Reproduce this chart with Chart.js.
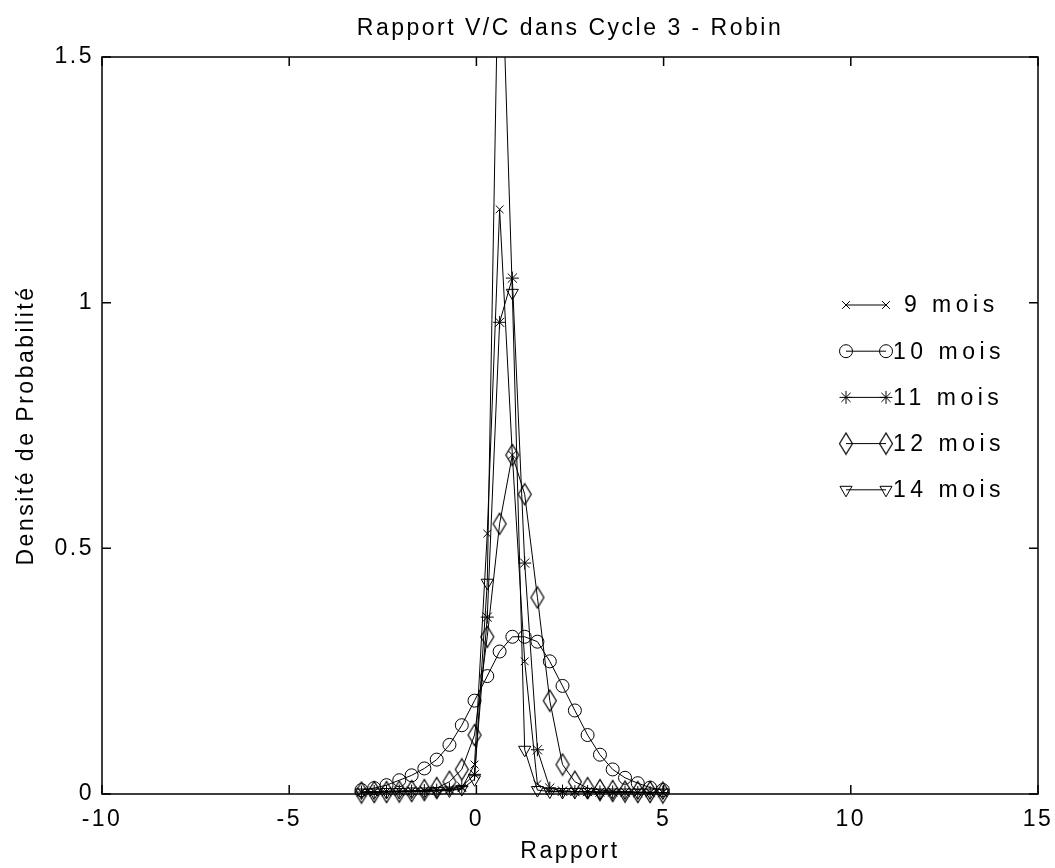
<!DOCTYPE html>
<html>
<head>
<meta charset="utf-8">
<script src="https://cdn.jsdelivr.net/npm/chart.js@4.4.0/dist/chart.umd.min.js"></script>
<style>
  body { margin: 0; background: #fff; }
</style>
</head>
<body>
<canvas id="chart" width="1055" height="868"></canvas>
<script>
// values (common x grid for all curves)
const rapport = [-3.07, -2.73, -2.40, -2.06, -1.73, -1.39, -1.06, -0.72, -0.39, -0.05, 0.29, 0.62, 0.96,
                 1.29, 1.63, 1.96, 2.30, 2.63, 2.97, 3.30, 3.64, 3.97, 4.31, 4.64, 4.98];
const mois9  = [0.004, 0.004, 0.005, 0.005, 0.006, 0.006, 0.007, 0.008, 0.012, 0.06, 0.53, 1.19, 0.69,
                0.27, 0.02, 0.006, 0.005, 0.005, 0.004, 0.004, 0.004, 0.004, 0.003, 0.003, 0.003];
const mois10 = [0.008, 0.012, 0.018, 0.028, 0.038, 0.052, 0.07, 0.10, 0.14, 0.19, 0.24, 0.29, 0.32,
                0.32, 0.31, 0.27, 0.22, 0.17, 0.12, 0.08, 0.05, 0.033, 0.022, 0.013, 0.008];
const mois11 = [0.004, 0.005, 0.005, 0.006, 0.006, 0.007, 0.008, 0.01, 0.015, 0.04, 0.36, 0.96, 1.05,
                0.47, 0.09, 0.012, 0.006, 0.005, 0.005, 0.004, 0.004, 0.004, 0.003, 0.003, 0.003];
const mois12 = [0.003, 0.004, 0.004, 0.005, 0.006, 0.008, 0.012, 0.025, 0.05, 0.12, 0.32, 0.55, 0.69,
                0.61, 0.40, 0.19, 0.06, 0.025, 0.012, 0.008, 0.006, 0.005, 0.004, 0.004, 0.003];
const mois14 = [0.003, 0.003, 0.004, 0.004, 0.005, 0.005, 0.006, 0.007, 0.01, 0.03, 0.43, 1.85, 1.02,
                0.09, 0.008, 0.005, 0.004, 0.004, 0.004, 0.003, 0.003, 0.003, 0.003, 0.003, 0.003];
const seriesLabels = [' 9 mois', '10 mois', '11 mois', '12 mois', '14 mois'];
const xTicks = [-10, -5, 0, 5, 10, 15];
const yTicks = [0, 0.5, 1, 1.5];

const FONT = 'Liberation Sans';
const SPACING = '2.5px';

// tall diamond like the matlab one
function diamond() {
    const c = document.createElement('canvas');
    c.width = 16; c.height = 24;
    const g = c.getContext('2d');
    g.strokeStyle = '#000';
    g.lineWidth = 1.2;
    g.beginPath();
    g.moveTo(1.5, 12); g.lineTo(8, 1.5); g.lineTo(14.5, 12); g.lineTo(8, 22.5);
    g.closePath();
    g.stroke();
    return c;
}

const styles = [
    { pointStyle: 'crossRot', pointRadius: 5.5 },
    { pointStyle: 'circle', pointRadius: 6.5 },
    { pointStyle: 'star', pointRadius: 6.5 },
    { pointStyle: diamond(), pointRadius: 7 },
    { pointStyle: 'triangle', pointRadius: 7, pointRotation: 180 }
];

const datasets = [mois9, mois10, mois11, mois12, mois14].map((vals, i) => ({
    label: seriesLabels[i],
    data: rapport.map((x, k) => ({ x, y: vals[k] })),
    showLine: true,
    borderColor: '#000',
    borderWidth: 1,
    pointBorderColor: '#000',
    pointBorderWidth: 1,
    pointBackgroundColor: 'rgba(0,0,0,0)',
    clip: { left: 12, right: 12, top: 0, bottom: 12 },
    ...styles[i]
}));

const spacing = {
    id: 'spacing',
    beforeUpdate(chart) { chart.ctx.letterSpacing = SPACING; },
    beforeDraw(chart) { chart.ctx.letterSpacing = SPACING; }
};

// box round the axes, ticks pointing inwards, and the legend inside the plot
const frame = {
    id: 'frame',
    afterDraw(chart) {
        const { ctx, chartArea: a, scales: { x, y } } = chart;
        ctx.save();
        ctx.strokeStyle = '#000';
        ctx.lineWidth = 1.5;
        ctx.strokeRect(a.left, a.top, a.right - a.left, a.bottom - a.top);
        ctx.beginPath();
        x.ticks.forEach(t => {
            const px = x.getPixelForValue(t.value);
            ctx.moveTo(px, a.bottom); ctx.lineTo(px, a.bottom - 9);
            ctx.moveTo(px, a.top); ctx.lineTo(px, a.top + 9);
        });
        y.ticks.forEach(t => {
            const py = y.getPixelForValue(t.value);
            ctx.moveTo(a.left, py); ctx.lineTo(a.left + 9, py);
            ctx.moveTo(a.right, py); ctx.lineTo(a.right - 9, py);
        });
        ctx.stroke();

        ctx.lineWidth = 1;
        ctx.font = `23px "${FONT}"`;
        ctx.letterSpacing = '4.5px';
        ctx.textBaseline = 'middle';
        chart.data.datasets.forEach((ds, i) => {
            const ly = 305 + 46.2 * i;
            ctx.beginPath();
            ctx.moveTo(846, ly); ctx.lineTo(886, ly);
            ctx.stroke();
            [846, 886].forEach(lx => {
                ctx.fillStyle = 'rgba(0,0,0,0)';
                Chart.helpers.drawPoint(ctx, {
                    pointStyle: ds.pointStyle, radius: ds.pointRadius,
                    rotation: ds.pointRotation || 0, borderWidth: 1
                }, lx, ly);
            });
            ctx.fillStyle = '#000';
            ctx.fillText(ds.label, 893, ly + 1);
        });
        ctx.restore();
    }
};

new Chart(document.getElementById('chart'), {
    type: 'scatter',
    data: { datasets },
    plugins: [spacing, frame],
    options: {
        responsive: false,
        animation: false,
        devicePixelRatio: 1,
        layout: { padding: { right: 17, left: 0, top: 0, bottom: 0 } },
        plugins: {
            legend: { display: false },
            tooltip: { enabled: false },
            title: {
                display: true,
                fullSize: false,
                text: 'Rapport V/C dans Cycle 3 - Robin',
                color: '#000',
                font: { family: FONT, size: 23, weight: 'normal' },
                padding: { top: 15, bottom: 14.4 }
            }
        },
        scales: {
            x: {
                type: 'linear',
                min: -10, max: 15,
                afterBuildTicks: s => { s.ticks = xTicks.map(v => ({ value: v })); },
                afterFit: s => { s.height = 74; s.paddingLeft = 0; s.paddingRight = 0; },
                grid: { display: false, drawTicks: false },
                border: { display: false },
                ticks: { color: '#000', padding: 12, maxRotation: 0, font: { family: FONT, size: 23 } },
                title: {
                    display: true, text: 'Rapport', color: '#000',
                    font: { family: FONT, size: 23 }, padding: { top: 0, bottom: 3 }
                }
            },
            y: {
                min: 0, max: 1.5,
                afterBuildTicks: s => { s.ticks = yTicks.map(v => ({ value: v })); },
                afterFit: s => { s.width = 102; s.paddingTop = 0; s.paddingBottom = 0; },
                grid: { display: false, drawTicks: false },
                border: { display: false },
                ticks: { color: '#000', padding: 8, font: { family: FONT, size: 23 }, callback: v => String(v) },
                title: {
                    display: true, text: 'Densité de Probabilité', color: '#000',
                    font: { family: FONT, size: 23 }, padding: { top: 13, bottom: 0 }
                }
            }
        }
    }
});
</script>
</body>
</html>
